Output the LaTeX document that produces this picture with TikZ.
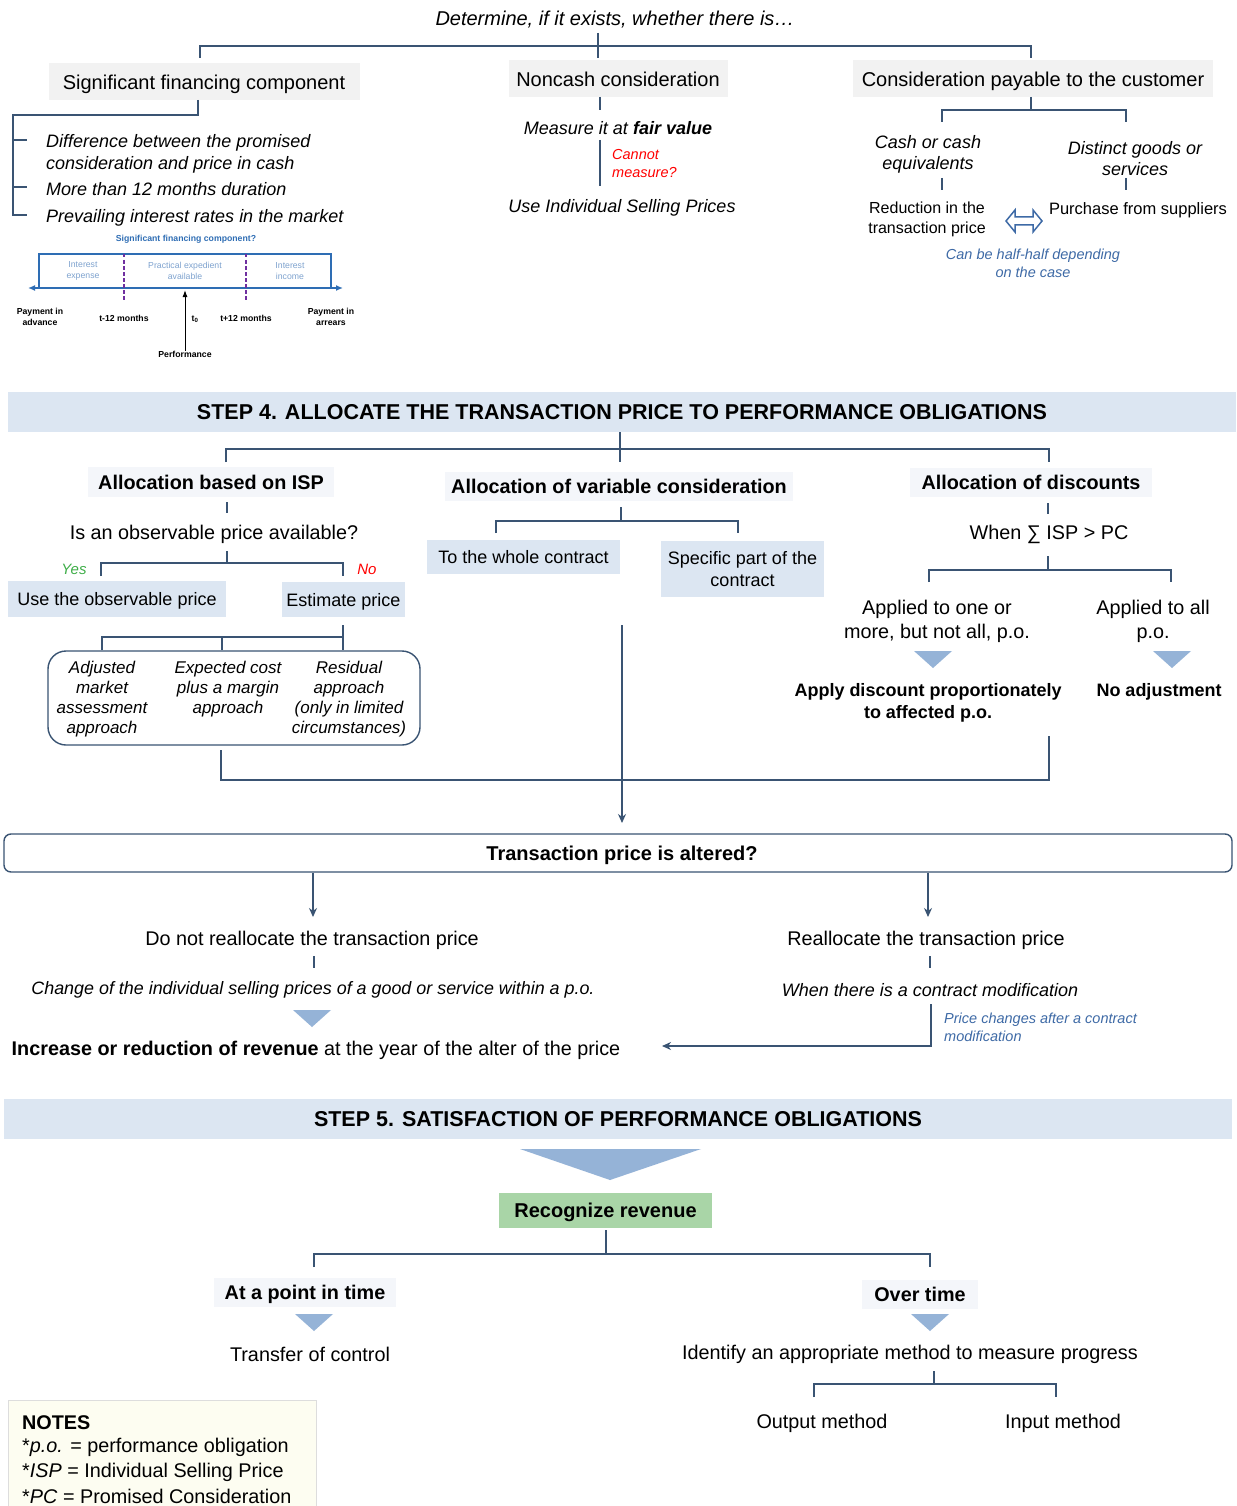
\documentclass[tikz,border=0pt]{standalone}
\usepackage{fontspec}
\setmainfont{Liberation Sans}
\usetikzlibrary{arrows.meta,calc}
\definecolor{lineblue}{HTML}{3A5473}
\definecolor{boxgray}{HTML}{F2F2F2}
\definecolor{boxpale}{HTML}{F4F6FA}
\definecolor{boxblue}{HTML}{DCE6F2}
\definecolor{tri}{HTML}{95B3D7}
\definecolor{recgreen}{HTML}{A9D5A7}
\definecolor{notecream}{HTML}{FDFDF1}
\definecolor{notebord}{HTML}{DDDDDD}
\definecolor{chartblue}{HTML}{2E6DB4}
\definecolor{chartlight}{HTML}{7FA3CF}
\definecolor{purp}{HTML}{7030A0}
\definecolor{noteblue}{HTML}{3E6AA6}
\definecolor{yesgreen}{HTML}{3FAE49}
\definecolor{nored}{HTML}{FF0000}
\tikzset{
  conn/.style={draw=lineblue, line width=1.4pt},
  arr/.style={conn, -{Stealth[length=9pt,width=8pt]}},
  txt/.style={inner sep=0pt, align=center, yshift=-2pt, font=\fontsize{19.8}{24}\selectfont},
  itx/.style={inner sep=0pt, align=center, yshift=-2pt, font=\fontsize{18}{22}\selectfont\itshape},
  btx/.style={inner sep=0pt, align=center, yshift=-2pt, font=\fontsize{19.8}{22}\selectfont\bfseries},
  smtx/.style={inner sep=0pt, align=center, yshift=-2pt, font=\fontsize{16}{20}\selectfont},
  notetx/.style={inner sep=0pt, align=center, yshift=-2pt, font=\fontsize{14.5}{18}\selectfont\itshape, text=noteblue},
  chartlbl/.style={inner sep=0pt, align=center, font=\fontsize{8.7}{10.5}\selectfont, text=chartlight},
  chartbold/.style={inner sep=0pt, align=center, font=\fontsize{8.7}{10.5}\selectfont\bfseries},
  capc/.style={text height=14.2pt, text depth=0pt},
  graybox/.style={fill=boxgray, inner sep=0pt, align=center, capc, font=\fontsize{20}{24}\selectfont},
  palebox/.style={fill=boxpale, inner sep=0pt, align=center, capc, font=\fontsize{19.8}{24}\selectfont\bfseries},
  bluebox/.style={fill=boxblue, inner sep=0pt, align=center, font=\fontsize{18}{22}\selectfont},
  banner/.style={fill=boxblue, inner sep=0pt, align=center, text height=15.4pt, text depth=0pt, font=\fontsize{21.5}{24}\selectfont\bfseries},
  downtri/.pic={\fill[tri] (-19,0) -- (19,0) -- (0,17) -- cycle;}
}
\begin{document}
\begin{tikzpicture}[x=1pt,y=-1pt]
\useasboundingbox (0,0) rectangle (1236,1506);
\fill[white] (0,0) rectangle (1236,1506);

% ---------------- top section
\node[itx, font=\fontsize{20}{22}\selectfont\itshape] (det) at (615,18) {Determine, if it exists, whether there is…};
\node[graybox, minimum width=311pt, minimum height=37pt] (sfc) at (204,82) {Significant financing component};
\node[graybox, minimum width=219pt, minimum height=37pt] (ncc) at (618,79) {Noncash consideration};
\node[graybox, minimum width=360pt, minimum height=37pt] (cpc) at (1033,79) {Consideration payable to the customer};
\coordinate (jtop) at (598,46);
\draw[conn] (598,33) -- (598,58);
\draw[conn] (200,58) -- (200,46) -- (jtop) -- (1031,46) -- (1031,58);

% significant financing component list
\draw[conn] (198,100) -- (198,115) -- (13,115) -- (13,215) -- (27,215);
\draw[conn] (13,140) -- (27,140);
\draw[conn] (13,187) -- (27,187);
\node[itx, align=left, anchor=west] (d1) at (46,152) {Difference between the promised\\consideration and price in cash};
\node[itx, anchor=west] (d2) at (46,187) {More than 12 months duration};
\node[itx, anchor=west] (d3) at (46,216) {Prevailing interest rates in the market};

% small chart
\node[chartbold, text=chartblue] (ct) at (186,239) {Significant financing component?};
\draw[chartblue, line width=1.5pt] (39,254) rectangle (331,288);
\draw[chartblue, line width=1.5pt, {Latex[length=7pt,width=6pt]}-{Latex[length=7pt,width=6pt]}] (28,288) -- (343,288);
\draw[purp, line width=2.2pt, dash pattern=on 3.5pt off 2.5pt] (124,254) -- (124,301);
\draw[purp, line width=2.2pt, dash pattern=on 3.5pt off 2.5pt] (246,254) -- (246,301);
\node[chartlbl] (c1) at (83,271) {Interest\\expense};
\node[chartlbl] (c2) at (185,271) {Practical expedient\\available};
\node[chartlbl] (c3) at (290,271) {Interest\\income};
\node[chartbold] (c4) at (40,317) {Payment in\\advance};
\node[chartbold] (c5) at (124,318) {t-12 months};
\node[chartbold] (c6) at (195,319) {t\textsubscript{0}};
\node[chartbold] (c7) at (246,318) {t+12 months};
\node[chartbold] (c8) at (331,317) {Payment in\\arrears};
\node[chartbold] (perf) at (185,354) {Performance};
\draw[black, line width=1pt, -{Latex[length=7pt,width=5pt]}] (perf.north) -- (185,290);

% noncash
\draw[conn] (600,97) -- (600,110);
\node[itx] (mfv) at (618,126) {Measure it at \textbf{fair value}};
\draw[conn] (600,140) -- (600,186);
\node[itx, font=\fontsize{14.5}{18}\selectfont\itshape, text=nored, align=left, anchor=west] (cm) at (612,162) {Cannot\\measure?};
\node[itx] (uisp) at (622,206) {Use Individual Selling Prices};

% consideration payable
\draw[conn] (1031,97) -- (1031,110);
\draw[conn] (942,122) -- (942,110) -- (1126,110) -- (1126,122);
\node[itx, font=\fontsize{18}{21}\selectfont\itshape] (cash) at (928,152) {Cash or cash\\equivalents};
\node[itx, font=\fontsize{18}{21}\selectfont\itshape] (dist) at (1135,157) {Distinct goods or\\services};
\draw[conn] (942,178) -- (942,190);
\draw[conn] (1126,178) -- (1126,190);
\node[smtx] (redu) at (927,217) {Reduction in the\\transaction price};
\node[smtx, font=\fontsize{16.5}{20}\selectfont] (pur) at (1138,208) {Purchase from suppliers};
\draw[noteblue, line width=1.5pt, fill=white, line join=miter]
  (1006,221) -- (1015,210) -- (1015,217) -- (1033,217) -- (1033,210) -- (1042,221)
  -- (1033,232) -- (1033,225) -- (1015,225) -- (1015,232) -- cycle;
\node[notetx] (half) at (1033,261) {Can be half-half depending\\on the case};

% ---------------- step 4
\node[banner, minimum width=1228pt, minimum height=40pt] (s4) at (622,412) {STEP 4. ALLOCATE THE TRANSACTION PRICE TO PERFORMANCE OBLIGATIONS};
\draw[conn] (620,432) -- (620,462);
\draw[conn] (226,462) -- (226,449) -- (1049,449) -- (1049,462);
\node[palebox, minimum width=246pt, minimum height=30pt] (isp) at (211,482) {Allocation based on ISP};
\node[palebox, minimum width=348pt, minimum height=29pt] (avc) at (619,486) {Allocation of variable consideration};
\node[palebox, minimum width=242pt, minimum height=29pt] (aod) at (1031,482) {Allocation of discounts};

% ISP branch
\draw[conn] (227,502) -- (227,513);
\node[txt] (obs) at (214,532) {Is an observable price available?};
\draw[conn] (227,551) -- (227,563);
\draw[conn] (101,576) -- (101,563) -- (343,563) -- (343,576);
\node[itx, font=\fontsize{15}{18}\selectfont\itshape, text=yesgreen] (yes) at (74,567) {Yes};
\node[itx, font=\fontsize{15}{18}\selectfont\itshape, text=nored] (no) at (367,567) {No};
\node[bluebox, capc, text height=13pt, minimum width=218pt, minimum height=36pt] (useobs) at (117,599) {Use the observable price};
\node[bluebox, capc, text height=13pt, minimum width=123pt, minimum height=35pt] (estp) at (343.5,599.5) {Estimate price};
\draw[conn] (343,625) -- (343,650);
\draw[conn] (102,650) -- (102,637) -- (343,637);
\draw[conn] (222,637) -- (222,650);
\node[draw=lineblue, line width=1.4pt, rounded corners=18pt, minimum width=372pt, minimum height=94pt, inner sep=0pt] (meth) at (234,698) {};
\node[itx, font=\fontsize{17}{20}\selectfont\itshape] (m1) at (102,697) {Adjusted\\market\\assessment\\approach};
\node[itx, font=\fontsize{17}{20}\selectfont\itshape] (m2) at (228,687) {Expected cost\\plus a margin\\approach};
\node[itx, font=\fontsize{17}{20}\selectfont\itshape] (m3) at (349,697) {Residual\\approach\\(only in limited\\circumstances)};
\coordinate (jbot) at (622,780);
\draw[conn] (221,750) -- (221,780) -- (jbot) -- (1049,780) -- (1049,736);

% variable consideration branch
\draw[conn] (621,507) -- (621,520);
\draw[conn] (496,533) -- (496,521) -- (738,521) -- (738,533);
\node[bluebox, capc, text height=13pt, minimum width=193pt, minimum height=34pt] (whole) at (523.5,557) {To the whole contract};
\node[bluebox, minimum width=163pt, minimum height=56pt] (spec) at (742.5,569) {Specific part of the\\contract};

% discounts branch
\draw[conn] (1048,503) -- (1048,514);
\node[txt] (when) at (1049,532) {When ∑ ISP > PC};
\draw[conn] (1048,556) -- (1048,570);
\draw[conn] (929,582) -- (929,570) -- (1171,570) -- (1171,582);
\node[txt] (app1) at (937,619) {Applied to one or\\more, but not all, p.o.};
\node[txt] (app2) at (1153,619) {Applied to all\\p.o.};
\pic at (933,651) {downtri};
\pic at (1172,651) {downtri};
\node[btx, font=\fontsize{18}{22}\selectfont\bfseries] (prop) at (928,701) {Apply discount proportionately\\to affected p.o.};
\node[btx, font=\fontsize{18}{22}\selectfont\bfseries] (noadj) at (1159,690) {No adjustment};

% ---------------- transaction price altered
\node[draw=lineblue, line width=1.4pt, rounded corners=7pt, minimum width=1228pt, minimum height=38pt, inner sep=0pt, text height=14.3pt, text depth=0pt, font=\fontsize{20}{22}\selectfont\bfseries] (tp) at (618,853) {\hspace*{8pt}Transaction price is altered?};
\coordinate (tpin) at (622,823);
\draw[arr] (622,625) -- (tpin);
\draw[arr] (tp.south -| 313,0) -- (313,917);
\draw[arr] (tp.south -| 928,0) -- (928,917);
\node[txt] (dnr) at (312,938) {Do not reallocate the transaction price};
\draw[conn] (314,956) -- (314,968);
\node[itx, font=\fontsize{17.9}{20}\selectfont\itshape] (chg) at (313,988) {Change of the individual selling prices of a good or service within a p.o.};
\pic at (312,1010) {downtri};
\node[txt] (inc) at (316,1048) {\textbf{Increase or reduction of revenue} at the year of the alter of the price};
\node[txt] (rea) at (926,938) {Reallocate the transaction price};
\draw[conn] (930,956) -- (930,968);
\node[itx] (wcm) at (930,988) {When there is a contract modification};
\coordinate (arrend) at (662,1046);
\draw[arr] (931,1004) -- (931,1046) -- (arrend);
\node[notetx, align=left, anchor=west] (pcm) at (944,1025) {Price changes after a contract\\modification};

% ---------------- step 5
\node[banner, minimum width=1228pt, minimum height=40pt] (s5) at (618,1119) {STEP 5. SATISFACTION OF PERFORMANCE OBLIGATIONS};
\fill[tri] (520,1149) -- (701,1149) -- (610,1180) -- cycle;
\node[fill=recgreen, minimum width=213pt, minimum height=35pt, inner sep=0pt, text height=14.3pt, text depth=0pt, font=\fontsize{20}{22}\selectfont\bfseries] (rec) at (605.5,1210.5) {Recognize revenue};
\draw[conn] (606,1230) -- (606,1254);
\draw[conn] (314,1267) -- (314,1254) -- (930,1254) -- (930,1267);
\node[palebox, minimum width=182pt, minimum height=29pt] (pit) at (305,1292.5) {At a point in time};
\node[palebox, minimum width=116pt, minimum height=29pt] (ovt) at (920,1294.5) {Over time};
\pic at (314,1314) {downtri};
\pic at (930,1314) {downtri};
\node[txt] (toc) at (310,1352) {Transfer of control};
\node[txt] (iam) at (910,1352) {Identify an appropriate method to measure progress};
\draw[conn] (934,1371) -- (934,1384);
\draw[conn] (814,1397) -- (814,1384) -- (1056,1384) -- (1056,1397);
\node[txt] (outm) at (822,1421) {Output method};
\node[txt] (inm) at (1063,1421) {Input method};

% ---------------- notes
\draw[fill=notecream, draw=notebord, line width=1pt] (8,1400) rectangle (316,1520);
\node[btx, anchor=west] (notes) at (22,1421) {NOTES};
\node[txt, anchor=west] (n1) at (22,1445) {*\textit{p.o.} = performance obligation};
\node[txt, anchor=west] (n2) at (22,1470) {*\textit{ISP} = Individual Selling Price};
\node[txt, anchor=west] (n3) at (22,1494) {*\textit{PC} = Promised Consideration};
\end{tikzpicture}
\end{document}
